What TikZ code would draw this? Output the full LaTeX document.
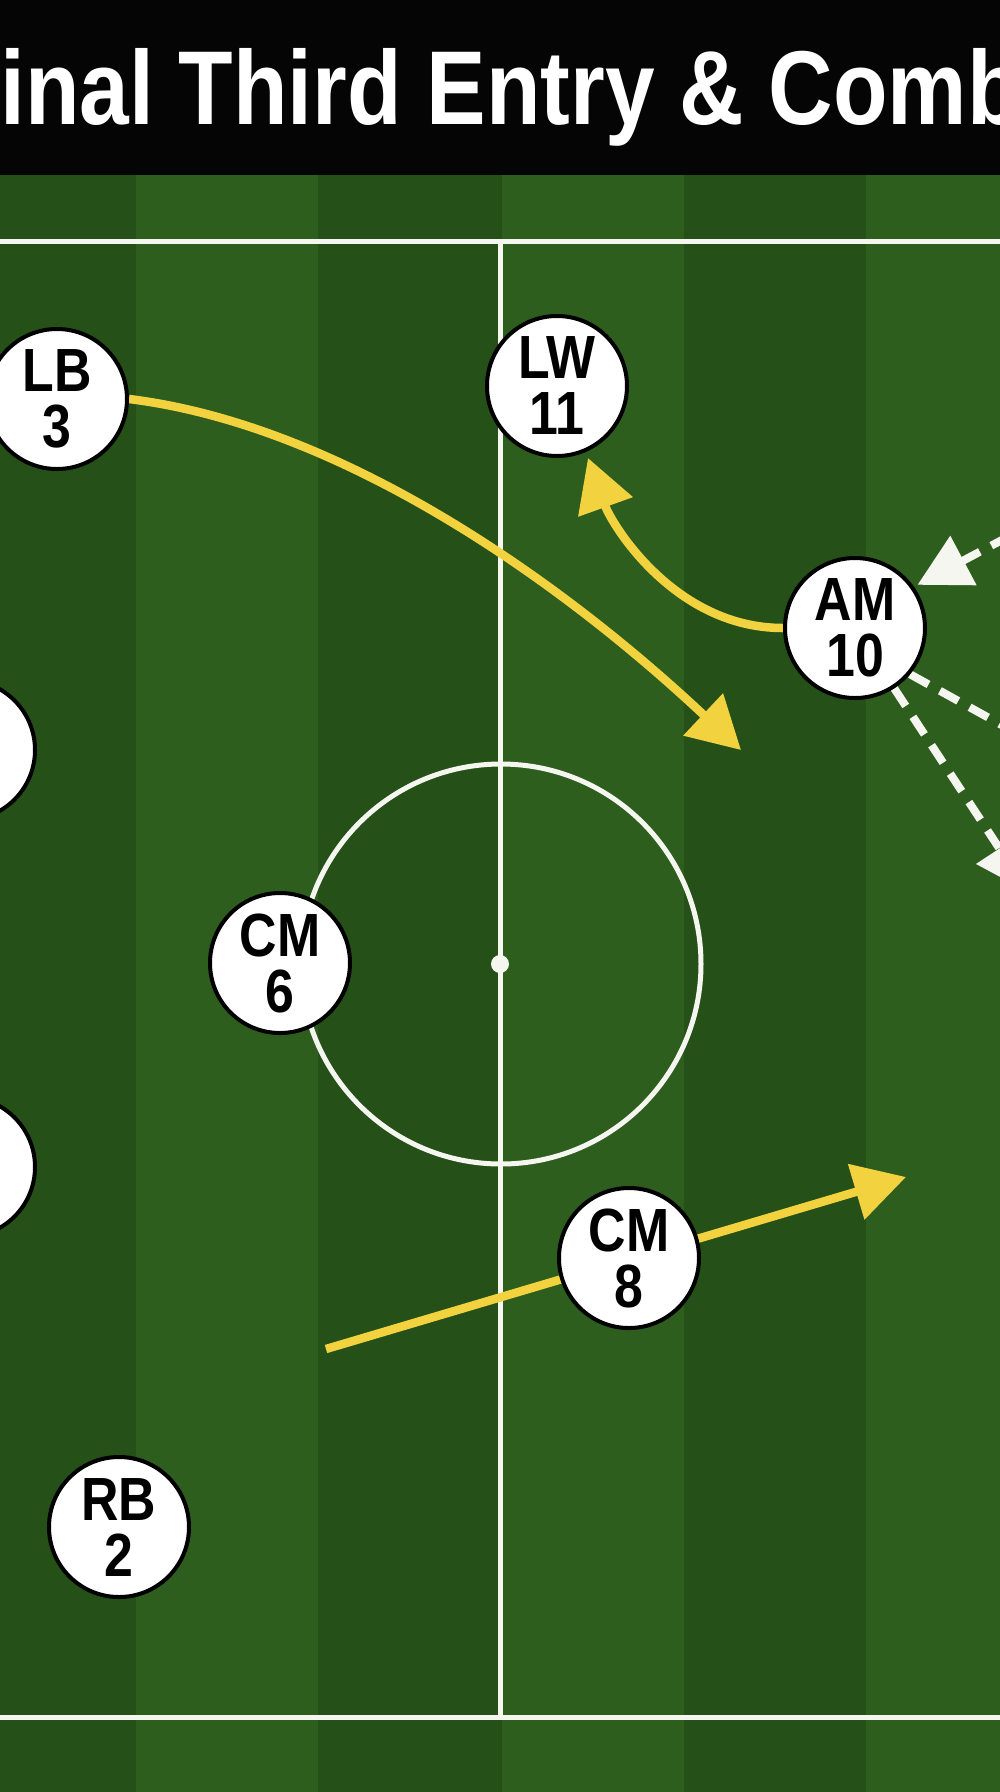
\documentclass[tikz,border=0pt]{standalone}
\usepackage{fontspec}
\setmainfont{Liberation Sans}
\newfontfamily\condfont[FakeStretch=0.85]{Liberation Sans}
\usetikzlibrary{arrows.meta}
\pgfdeclarelayer{bg}
\pgfdeclarelayer{paths}
\pgfsetlayers{bg,paths,main}
\definecolor{grassA}{RGB}{46,94,30}
\definecolor{grassB}{RGB}{37,81,25}
\definecolor{passcol}{RGB}{242,210,62}
\definecolor{chalk}{RGB}{246,246,240}
\definecolor{barblack}{RGB}{5,5,5}
\begin{document}
\begin{tikzpicture}[x=1pt,y=-1pt,
  player/.style={circle, draw=black, line width=4pt, fill=white, minimum size=140pt, inner sep=0pt, align=center, font=\condfont\bfseries\fontsize{61}{56}\selectfont},
  pitchline/.style={draw=chalk, line width=5pt},
  passline/.style={draw=passcol, line width=8.5pt, -{Triangle[length=52pt,width=56pt]}},
  runline/.style={draw=chalk, line width=8pt, dash pattern=on 21pt off 13pt, -{Triangle[length=52pt,width=54pt]}},
  titletext/.style={anchor=base west, inner sep=0pt, text=white, font=\condfont\bfseries\fontsize{105}{110}\selectfont}
]
\useasboundingbox (0,0) rectangle (1000,1792);
\begin{pgfonlayer}{bg}
  % grass stripes
  \fill[grassB] (0,175) rectangle (136,1792);
  \fill[grassA] (136,175) rectangle (318,1792);
  \fill[grassB] (318,175) rectangle (502,1792);
  \fill[grassA] (502,175) rectangle (684,1792);
  \fill[grassB] (684,175) rectangle (866,1792);
  \fill[grassA] (866,175) rectangle (1000,1792);
  % title bar
  \fill[barblack] (0,0) rectangle (1000,175);
  % pitch markings
  \draw[pitchline] (0,241) -- (1000,241);
  \draw[pitchline] (0,1717) -- (1000,1717);
  \draw[pitchline] (500,241) -- (500,1717);
  \draw[pitchline] (501,964) circle[radius=200];
  \fill[chalk] (500,964) circle[radius=9];
\end{pgfonlayer}

\node[titletext] (title) at (0,124) {inal Third Entry \& Comb};

\node[player] (pL1) at (-35,750) {};
\node[player] (pL2) at (-35,1167) {};
\node[player] (LB) at (57,399) {LB\\3};
\node[player] (LW) at (557,386) {LW\\11};
\node[player] (AM) at (855,628) {AM\\10};
\node[player] (CM6) at (280,963) {CM\\6};
\node[player] (CM8) at (629,1258) {CM\\8};
\node[player] (RB) at (119,1527) {RB\\2};

\begin{pgfonlayer}{paths}
  \coordinate (lbT) at (741,750);
  \draw[passline] (LB.east) .. controls (340,425) and (560,580) .. (lbT);
  \coordinate (lwT) at (588,458);
  \draw[passline] (AM.west) .. controls (675,628) and (612,525) .. (lwT);
  \coordinate (c8S) at (326,1349);
  \coordinate (c8T) at (906,1177);
  \draw[passline] (c8S) -- (c8T);
  \coordinate (w1S) at (1100,488);
  \draw[runline, shorten >=4pt] (w1S) -- (AM.35);
  \coordinate (w2T) at (1110,785);
  \draw[runline] (AM.-40) -- (w2T);
  \coordinate (w3T) at (1028,892);
  \draw[runline] (AM.-57) -- (w3T);
\end{pgfonlayer}
\end{tikzpicture}
\end{document}
